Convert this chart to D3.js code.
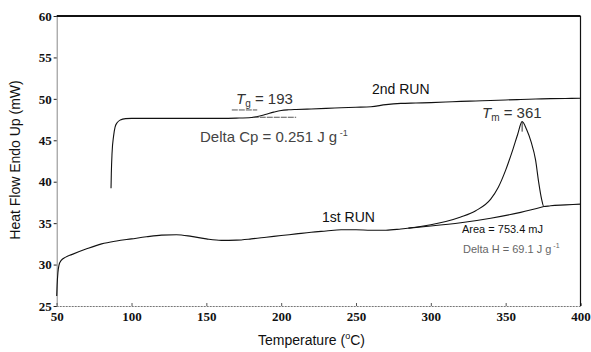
<!DOCTYPE html>
<html>
<head>
<meta charset="utf-8">
<script src="https://cdn.jsdelivr.net/npm/d3@7"></script>
<style>
  html, body { margin: 0; padding: 0; background: #fff; }
  svg { display: block; }
  .tick text { font-family: "Liberation Serif", "DejaVu Serif", serif; font-weight: bold; font-size: 13px; fill: #111; }
  .sans { font-family: "Liberation Sans", Arial, sans-serif; }
</style>
</head>
<body>
<svg id="chart" width="591" height="352"></svg>
<script>
// DSC thermogram: first and second heating runs
const xTicks = [50, 100, 150, 200, 250, 300, 350, 400];
const yTicks = [25, 30, 35, 40, 45, 50, 55, 60];

// First heating run: temperature (°C) and heat flow (mW)
const run1T = [50, 50.3, 50.8, 51.5, 53, 56, 60, 70, 80, 90, 100, 110, 120, 130, 140, 150, 160, 170, 180, 190, 200, 210, 220, 230, 240, 250, 260, 270, 280, 290, 300, 310, 320, 330, 340, 345, 350, 355, 358, 361, 364, 367, 370, 372, 374, 375.5, 380, 390, 400];
const run1HF = [26.2, 27.6, 29.0, 29.9, 30.5, 30.9, 31.2, 31.9, 32.5, 32.85, 33.1, 33.35, 33.55, 33.6, 33.4, 33.1, 32.92, 32.95, 33.1, 33.3, 33.5, 33.7, 33.9, 34.05, 34.2, 34.2, 34.15, 34.15, 34.3, 34.5, 34.8, 35.2, 35.75, 36.5, 37.9, 39.3, 41.4, 44.0, 45.7, 47.25, 46.3, 44.8, 42.6, 40.0, 37.9, 37.0, 37.1, 37.2, 37.3];

// Integration baseline under the melting endotherm
const baseT = [285, 300, 320, 340, 360, 375.5];
const baseHF = [34.4, 34.65, 35.05, 35.6, 36.3, 37.0];

// Second heating run
const run2T = [86.3, 86.5, 87, 88, 89, 90.5, 92.5, 96, 100, 120, 140, 160, 170, 180, 185, 190, 195, 200, 205, 210, 220, 230, 240, 250, 260, 270, 280, 290, 300, 310, 320, 330, 340, 350, 360, 370, 380, 390, 400];
const run2HF = [39.2, 41.0, 43.5, 45.5, 46.6, 47.15, 47.45, 47.62, 47.65, 47.65, 47.65, 47.65, 47.68, 47.75, 47.9, 48.15, 48.4, 48.6, 48.68, 48.72, 48.78, 48.85, 48.92, 48.98, 49.05, 49.3, 49.45, 49.5, 49.55, 49.62, 49.7, 49.75, 49.8, 49.87, 49.92, 49.98, 50.03, 50.05, 50.08];

// Glass-transition tangent lines (upper and lower baselines)
const tgUpperT = [167, 184], tgUpperHF = [48.66, 48.66];
const tgLowerT = [181, 210], tgLowerHF = [47.78, 47.78];

const Tg = 193, Tm = 361, TmHF = 47.25;

const svg = d3.select("#chart");
const plotLeft = 56.7, plotRight = 580.5, plotTop = 16, plotBottom = 306;

const x = d3.scaleLinear().domain([50, 400]).range([plotLeft, plotRight]);
const y = d3.scaleLinear().domain([25, 60]).range([plotBottom, plotTop]);

const zip = (a, b) => a.map((v, i) => [v, b[i]]);
const line = d3.line().x(d => x(d[0])).y(d => y(d[1])).curve(d3.curveMonotoneX);
const straight = d3.line().x(d => x(d[0])).y(d => y(d[1]));

// Axes
const xAxis = svg.append("g").attr("transform", `translate(0,${plotBottom})`)
  .call(d3.axisBottom(x).tickValues(xTicks).tickSize(-3).tickPadding(6).tickFormat(d3.format("d")));
xAxis.select(".domain").attr("stroke", "#777").attr("stroke-width", 1.2).attr("stroke-dasharray", "2,1");
xAxis.selectAll(".tick line").attr("stroke", "#555");

const yAxis = svg.append("g").attr("transform", `translate(${plotLeft},0)`)
  .call(d3.axisLeft(y).tickValues(yTicks).tickSize(3).tickPadding(2).tickFormat(d3.format("d")));
yAxis.select(".domain").attr("stroke", "#888").attr("stroke-width", 1);
yAxis.selectAll(".tick line").attr("stroke", "#222");

// Frame: heavy top edge, thin right edge
svg.append("line").attr("x1", plotLeft).attr("x2", plotRight).attr("y1", y(60)).attr("y2", y(60))
  .attr("stroke", "#111").attr("stroke-width", 2);
svg.append("line").attr("x1", plotRight).attr("x2", plotRight).attr("y1", y(60)).attr("y2", plotBottom)
  .attr("stroke", "#111").attr("stroke-width", 1.2);

// Curves
svg.append("path").attr("d", line(zip(run1T, run1HF)))
  .attr("fill", "none").attr("stroke", "#111").attr("stroke-width", 1.1);
svg.append("path").attr("d", line(zip(baseT, baseHF)))
  .attr("fill", "none").attr("stroke", "#111").attr("stroke-width", 1.1);
svg.append("path").attr("d", line(zip(run2T, run2HF)))
  .attr("fill", "none").attr("stroke", "#111").attr("stroke-width", 1.1);

// Tg construction lines
svg.append("path").attr("d", straight(zip(tgUpperT, tgUpperHF)))
  .attr("fill", "none").attr("stroke", "#555").attr("stroke-width", 1).attr("stroke-dasharray", "6,1");
svg.append("path").attr("d", straight(zip(tgLowerT, tgLowerHF)))
  .attr("fill", "none").attr("stroke", "#555").attr("stroke-width", 1).attr("stroke-dasharray", "6,1");

// Tm marker
svg.append("line").attr("x1", x(Tm)).attr("x2", x(Tm)).attr("y1", y(TmHF)).attr("y2", y(TmHF) + 10)
  .attr("stroke", "#333").attr("stroke-width", 1);

// Text annotations
function label(px, py, size, fill) {
  return svg.append("text").attr("class", "sans").attr("x", px).attr("y", py)
    .attr("font-size", size).attr("fill", fill);
}

label(372, 93.5, 14, "#111").text("2nd RUN");
label(322, 221.5, 14, "#111").text("1st RUN");

const tg = label(236, 103.5, 15, "#333");
tg.append("tspan").attr("font-style", "italic").text("T");
tg.append("tspan").attr("font-size", 10).attr("dy", 3).text("g");
tg.append("tspan").attr("dy", -3).text(" = " + Tg);

const tm = label(482, 118, 15, "#333");
tm.append("tspan").attr("font-style", "italic").text("T");
tm.append("tspan").attr("font-size", 10).attr("dy", 3).text("m");
tm.append("tspan").attr("dy", -3).text(" = " + Tm);

const cp = label(200, 141.5, 15, "#444");
cp.append("tspan").text("Delta Cp = 0.251 J g");
cp.append("tspan").attr("font-size", 9).attr("dy", -6).text(" -1");

label(462, 232.5, 11, "#111").text("Area = 753.4 mJ");

const dh = label(463, 253, 11, "#666");
dh.append("tspan").text("Delta H = 69.1 J g");
dh.append("tspan").attr("font-size", 7).attr("dy", -5).text(" -1");

// Axis titles
const xt = label(258, 345, 14, "#111");
xt.append("tspan").text("Temperature (");
xt.append("tspan").attr("font-size", 9).attr("dy", -6).text("o");
xt.append("tspan").attr("dy", 6).text("C)");

label(0, 0, 14, "#111").attr("transform", "translate(20,160) rotate(-90)")
  .attr("text-anchor", "middle").text("Heat Flow Endo Up (mW)");
</script>
</body>
</html>
